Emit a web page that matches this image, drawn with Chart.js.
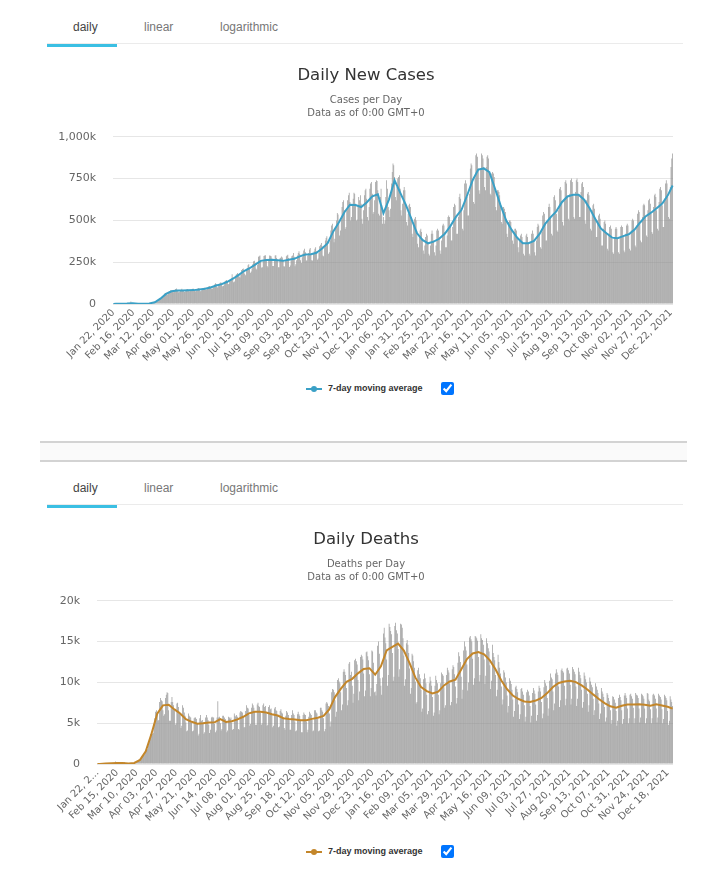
<!DOCTYPE html>
<html>
<head>
<meta charset="utf-8">
<title>Daily New Cases / Daily Deaths</title>
<script src="https://cdn.jsdelivr.net/npm/chart.js@4.4.1/dist/chart.umd.min.js"></script>
<style>
  body { margin: 0; background: #fff; }
  .page { position: relative; width: 723px; height: 877px; overflow: hidden; }
  .tabs { position: absolute; left: 47px; width: 636px; height: 43px; border-bottom: 1px solid #ebebeb;
          font-family: "Liberation Sans", Arial, sans-serif; font-size: 12px; color: #777; }
  .tabs span { position: absolute; top: 20px; }
  .tabs .active { color: #444; }
  .tabs .underline { position: absolute; left: 0; bottom: -4px; width: 70px; height: 3px; background: #3bbfe3; }
  .sep { position: absolute; left: 40px; width: 647px; top: 441px; height: 17px; background: #fafafa;
         border-top: 2px solid #d3d3d3; border-bottom: 2px solid #d3d3d3; }
  canvas { position: absolute; left: 40px; }
  .legend { position: absolute; left: 0; width: 723px; height: 14px;
            font-family: "Liberation Sans", Arial, sans-serif; font-weight: bold; font-size: 9px; color: #333; }
  .legend .mk { position: absolute; left: 306px; top: 6px; width: 16px; height: 2px; }
  .legend .dot { position: absolute; left: 311px; top: 4px; width: 6px; height: 6px; border-radius: 50%; }
  .legend .txt { position: absolute; left: 328px; top: 1px; }
  .legend input { position: absolute; left: 441px; top: 0px; margin: 0; width: 13px; height: 13px; }
</style>
</head>
<body>
<div class="page">
  <div class="tabs" style="top:0">
    <span class="active" style="left:26px">daily</span>
    <span style="left:97px">linear</span>
    <span style="left:173px">logarithmic</span>
    <div class="underline"></div>
  </div>
  <canvas id="casesChart" width="652" height="315" style="top:58px"></canvas>
  <div class="legend" style="top:382px">
    <div class="mk" style="background:#3aa0c6"></div><div class="dot" style="background:#3aa0c6"></div>
    <span class="txt">7-day moving average</span><input type="checkbox" checked>
  </div>

  <div class="sep"></div>

  <div class="tabs" style="top:461px">
    <span class="active" style="left:26px">daily</span>
    <span style="left:97px">linear</span>
    <span style="left:173px">logarithmic</span>
    <div class="underline"></div>
  </div>
  <canvas id="deathsChart" width="652" height="311" style="top:522px"></canvas>
  <div class="legend" style="top:845px">
    <div class="mk" style="background:#c3862a"></div><div class="dot" style="background:#c3862a"></div>
    <span class="txt">7-day moving average</span><input type="checkbox" checked>
  </div>
</div>

<script>
// Daily values, in thousands, Jan 22 2020 -> Dec 24 2021 (one row = two weeks, Wed..Tue)
const casesDaily = [
  1,0,0,1,1,1,2, 1,2,2,2,2,3,3,
  4,4,3,3,3,3,2, 2,15,6,3,3,2,2,
  1,1,1,1,1,1,1, 1,1,1,2,2,2,2,
  2,3,3,4,4,4,4, 5,7,10,11,11,14,15,
  17,27,31,32,34,40,42, 50,62,64,62,59,57,65,
  76,77,82,79,73,70,74, 83,89,92,80,78,71,74,
  82,85,91,83,79,72,75, 80,87,89,85,77,76,78,
  80,87,92,84,79,76,80, 90,93,95,92,77,78,85,
  86,95,98,95,83,86,93, 101,107,107,103,93,89,95,
  107,117,124,120,103,98,110, 121,127,130,124,106,107,118,
  134,139,143,138,118,120,140, 143,151,178,158,130,134,165,
  175,179,185,176,164,158,174, 204,210,212,190,180,172,210,
  216,232,237,218,187,195,212, 238,256,258,244,212,207,235,
  282,285,290,256,218,220,256, 287,290,292,264,228,220,258,
  290,289,285,270,227,228,266, 290,292,275,266,220,220,272,
  277,284,278,258,226,225,258, 286,290,295,275,222,230,260,
  285,290,305,283,226,238,262, 290,305,315,300,262,245,280,
  302,320,330,310,260,260,290, 305,326,335,300,262,260,300,
  316,330,340,316,265,272,305, 346,355,365,345,290,285,340,
  380,395,405,375,300,310,380, 440,470,480,440,370,390,450,
  500,545,535,480,410,440,505, 580,610,620,560,450,460,560,
  620,650,665,610,500,520,590, 630,665,660,600,500,505,585,
  640,620,650,600,510,480,560, 650,680,690,630,520,500,580,
  690,720,730,660,540,550,620, 730,740,735,680,540,530,640,
  690,590,480,520,480,500,640, 740,690,580,560,520,570,720,
  790,840,830,760,640,620,700, 750,760,770,690,560,530,600,
  680,700,680,600,490,470,540, 590,600,580,520,420,400,470,
  510,520,500,440,360,340,400, 440,450,430,390,320,300,350,
  400,420,410,370,300,290,350, 420,440,420,380,310,290,350,
  440,450,440,400,320,300,380, 470,480,470,430,340,340,410,
  520,530,520,470,380,380,460, 580,600,590,520,420,420,520,
  640,660,630,560,450,440,560, 720,740,720,640,530,530,660,
  810,840,830,740,610,600,750, 890,900,880,810,680,660,810,
  900,890,870,820,700,680,820, 880,890,870,790,660,650,780,
  790,780,760,690,580,560,680, 680,670,650,590,490,480,580,
  580,570,550,500,420,400,490, 500,500,490,440,380,360,430,
  450,450,440,400,340,310,380, 410,420,400,370,300,290,360,
  410,420,400,360,300,290,370, 420,440,420,380,310,290,380,
  460,480,470,420,340,330,430, 530,550,540,480,380,380,490,
  580,600,580,520,420,410,530, 640,650,620,540,440,430,560,
  690,700,680,610,490,470,620, 730,740,720,640,510,500,660,
  740,750,730,650,520,510,670, 740,750,730,650,520,520,670,
  720,730,700,620,500,480,620, 660,670,650,570,450,440,560,
  590,600,570,500,400,400,500, 530,540,510,440,350,350,450,
  490,500,480,420,330,320,420, 460,470,450,390,310,300,400,
  450,460,450,390,310,300,400, 460,470,460,400,320,310,420,
  470,480,470,410,330,320,440, 500,510,500,440,350,340,470,
  540,560,550,480,380,370,520, 590,600,590,520,410,400,560,
  620,630,600,540,430,420,580, 650,660,640,560,450,440,610,
  690,700,680,590,460,460,630, 720,740,720,640,520,510,700,
  820,870,900
];

const deathsDaily = [
  0,0,0,0,0,0,0.1, 0,0.1,0,0.1,0.1,0.1,0.1,
  0.1,0.1,0.1,0.1,0.1,0.1,0.1, 0.1,0.3,0.1,0.1,0.1,0.1,0.1,
  0.1,0.1,0.1,0.1,0.1,0.2,0.1, 0.1,0,0,0.1,0.1,0.1,0.1,
  0.1,0.1,0.1,0.1,0.1,0.2,0.2, 0.3,0.4,0.4,0.4,0.5,0.6,0.9,
  1.0,1.1,1.4,1.7,1.7,1.8,2.3, 2.8,3.1,3.7,3.9,3.7,3.8,4.9,
  5.6,6.4,6.6,6.2,5.3,5.4,7.6, 8.1,7.8,7.7,6.6,5.9,6.1,8.1,
  8.5,8.8,8.7,6.6,5.3,5.3,7.6, 8.2,7.6,7.2,6.6,4.8,5.0,7.4,
  7.5,7.0,6.4,6.1,4.4,4.7,7.2, 6.9,6.3,5.9,5.1,4.0,4.1,6.2,
  5.9,5.8,5.7,5.1,4.0,4.1,5.6, 5.7,5.7,5.5,4.9,3.5,3.7,5.6,
  6.0,5.3,5.4,4.9,3.7,3.9,5.7, 6.0,5.7,5.4,4.8,3.8,4.2,5.7,
  5.8,5.7,5.7,4.9,3.9,4.1,5.7, 7.7,5.7,5.8,5.0,4.1,4.3,5.9,
  5.9,5.7,5.5,5.2,3.9,4.1,5.8, 5.7,5.5,5.7,5.1,4.2,4.3,6.2,
  5.9,5.8,6.0,5.8,4.3,4.2,6.3, 6.5,6.4,6.3,5.8,4.5,4.5,6.5,
  7.2,6.9,6.8,6.0,4.7,4.9,6.9, 7.4,7.2,6.9,6.4,4.8,4.8,7.3,
  7.5,7.1,7.0,6.3,4.8,5.0,7.2, 7.4,7.0,7.1,6.2,4.7,4.8,7.0,
  7.2,6.7,6.8,6.0,4.5,4.7,6.8, 7.0,6.6,6.5,5.9,4.5,4.6,6.5,
  6.7,6.3,6.2,5.6,4.4,4.2,5.9, 6.5,6.3,6.0,5.4,4.2,4.2,6.0,
  6.6,6.2,6.0,5.2,4.0,4.1,6.1, 6.4,6.1,5.9,5.3,3.9,3.9,6.0,
  6.3,6.1,6.0,5.2,3.9,4.2,5.8, 6.4,6.2,6.0,5.4,4.0,4.1,6.6,
  6.6,6.3,6.2,5.5,4.0,4.1,6.9, 6.9,6.6,6.4,5.6,4.0,4.3,7.4,
  7.6,7.4,7.1,6.2,4.6,5.2,8.8, 9.2,9.1,8.8,7.8,5.8,6.4,10.3,
  10.5,10.1,9.9,8.8,6.6,7.3,11.3, 11.6,11.3,10.9,9.3,7.2,7.8,12.3,
  12.5,10.9,11.3,9.6,7.5,8.6,12.7, 12.9,12.6,12.2,10.3,7.8,8.9,13.1,
  13.4,13.2,12.8,11.1,8.3,9.0,13.7, 13.8,13.2,12.7,11.0,8.3,9.3,13.9,
  13.8,12.4,8.8,8.9,8.4,9.8,14.5, 15.0,13.5,10.5,9.6,8.5,10.6,16.0,
  16.7,15.5,14.8,12.8,9.6,10.9,17.2, 16.8,16.3,15.9,13.6,10.2,10.7,16.9,
  17.3,16.4,16.0,14.1,10.7,11.6,17.2, 17.1,16.7,15.4,13.3,9.6,10.4,14.8,
  15.2,14.6,13.6,11.7,8.6,9.3,13.5, 13.3,12.6,11.8,10.1,7.4,7.6,11.5,
  11.8,11.0,10.5,9.1,6.4,6.8,10.4, 11.1,10.5,9.9,8.5,6.1,6.5,9.9,
  10.7,10.2,9.6,8.2,5.9,6.3,9.6, 10.8,10.3,9.9,8.5,6.1,6.6,9.9,
  11.2,11.0,10.8,9.4,6.9,7.2,10.9, 11.8,11.5,11.2,9.9,7.2,7.6,11.6,
  12.1,11.9,11.0,9.5,7.4,8.1,12.4, 13.7,13.2,12.5,10.7,8.0,9.1,13.9,
  15.0,14.4,13.9,12.2,9.0,10.0,15.5, 15.7,15.3,15.0,12.9,9.7,10.5,15.7,
  15.6,15.4,15.1,13.1,10.1,10.9,15.9, 15.4,15.2,14.6,12.8,9.8,10.8,15.4,
  14.8,14.2,13.8,12.1,9.2,10.2,14.6, 13.6,13.1,12.7,10.9,8.3,9.1,13.4,
  12.5,11.8,11.1,9.5,7.3,7.9,11.5, 11.2,10.6,10.0,8.4,6.3,7.1,10.5,
  10.2,9.8,9.1,7.9,5.8,6.5,9.4, 9.6,9.2,8.8,7.3,5.5,6.1,9.2,
  9.3,8.9,8.5,7.2,5.2,5.8,8.8, 9.1,8.9,8.4,7.1,5.1,5.9,8.7,
  9.3,9.0,8.6,7.3,5.3,6.0,8.9, 9.6,9.3,8.9,7.6,5.6,6.2,9.4,
  10.3,9.9,9.6,8.1,5.9,6.8,10.2, 11.1,10.6,10.4,8.9,6.6,7.4,11.1,
  11.6,11.2,10.9,9.5,7.0,7.8,11.5, 11.7,11.4,11.2,9.6,7.2,8.0,11.7,
  11.8,11.5,11.1,9.7,7.3,8.0,11.9, 11.6,11.3,11.0,9.5,7.1,8.0,11.8,
  11.3,10.9,10.5,9.1,6.9,7.6,11.2, 10.8,10.4,10.0,8.6,6.4,7.2,10.6,
  10.1,9.7,9.4,8.0,6.0,6.6,9.9, 9.5,9.1,8.7,7.4,5.5,6.2,9.3,
  8.9,8.6,8.2,7.0,5.2,5.7,8.7, 8.5,8.1,7.7,6.6,4.9,5.4,8.3,
  8.2,7.9,7.5,6.5,4.7,5.3,8.1, 8.5,8.2,7.8,6.6,4.9,5.5,8.4,
  8.7,8.4,8.1,6.8,5.0,5.6,8.5, 8.6,8.3,8.0,6.9,5.0,5.6,8.7,
  8.5,8.4,8.1,6.8,5.1,5.7,8.6, 8.5,8.3,8.0,6.8,5.0,5.6,8.7,
  8.6,7.9,7.7,6.7,5.0,5.6,8.5, 8.6,8.4,8.0,6.8,5.1,5.7,8.6,
  8.4,8.2,7.9,6.7,5.0,5.5,8.5, 8.3,8.1,7.8,6.5,4.8,5.3,8.3,
  7.9,7.6,7.1
];

// 7-day moving average (thousands): first day, the middle of every week, then the final day
const casesAvg = [0,
  1,2,3,5,1,2,3,10,32,60,
  76,81,81,82,83,87,91,99,111,119,
  133,151,173,197,214,236,258,263,265,262,
  258,265,270,285,296,298,306,332,364,434,
  488,549,594,592,580,607,644,656,543,626,
  740,666,594,511,424,383,363,373,390,420,
  466,521,563,649,740,804,811,789,691,591,
  501,443,396,364,364,377,419,479,520,554,
  609,643,653,654,624,571,509,451,423,397,
  394,406,417,444,486,524,546,573,601,650,
  709];

const deathsAvg = [0,
  0.01,0.07,0.1,0.13,0.11,0.07,0.13,0.5,1.57,3.7,
  6.16,7.19,7.26,6.69,6.19,5.5,5.17,4.94,4.99,5.09,
  5.11,5.5,5.16,5.24,5.47,5.79,6.2,6.4,6.41,6.31,
  6.1,5.94,5.61,5.51,5.46,5.36,5.36,5.53,5.66,5.89,
  6.7,8.2,9.21,10.06,10.44,11.11,11.64,11.74,10.94,11.96,
  13.93,14.34,14.76,13.9,12.36,10.61,9.43,8.93,8.64,8.87,
  9.63,10.11,10.34,11.59,12.86,13.54,13.73,13.43,12.7,11.59,
  10.23,9.16,8.39,7.96,7.67,7.6,7.77,8.09,8.69,9.44,
  9.93,10.11,10.19,10.04,9.64,9.14,8.53,7.96,7.47,7.07,
  6.89,7.13,7.3,7.3,7.31,7.27,7.14,7.31,7.17,7.01,
  6.79];

// tick labels shown under each x axis
const casesTicks = ['Jan 22, 2020','Feb 16, 2020','Mar 12, 2020','Apr 06, 2020','May 01, 2020','May 26, 2020',
  'Jun 20, 2020','Jul 15, 2020','Aug 09, 2020','Sep 03, 2020','Sep 28, 2020','Oct 23, 2020','Nov 17, 2020',
  'Dec 12, 2020','Jan 06, 2021','Jan 31, 2021','Feb 25, 2021','Mar 22, 2021','Apr 16, 2021','May 11, 2021',
  'Jun 05, 2021','Jun 30, 2021','Jul 25, 2021','Aug 19, 2021','Sep 13, 2021','Oct 08, 2021','Nov 02, 2021',
  'Nov 27, 2021','Dec 22, 2021'];
const deathsTicks = ['Jan 22, 2020','Feb 15, 2020','Mar 10, 2020','Apr 03, 2020','Apr 27, 2020','May 21, 2020',
  'Jun 14, 2020','Jul 08, 2020','Aug 01, 2020','Aug 25, 2020','Sep 18, 2020','Oct 12, 2020','Nov 05, 2020',
  'Nov 29, 2020','Dec 23, 2020','Jan 16, 2021','Feb 09, 2021','Mar 05, 2021','Mar 29, 2021','Apr 22, 2021',
  'May 16, 2021','Jun 09, 2021','Jul 03, 2021','Jul 27, 2021','Aug 20, 2021','Sep 13, 2021','Oct 07, 2021',
  'Oct 31, 2021','Nov 24, 2021','Dec 18, 2021'];

// one category per day
const MONTHS = ['Jan','Feb','Mar','Apr','May','Jun','Jul','Aug','Sep','Oct','Nov','Dec'];
const startDay = Date.UTC(2020, 0, 22);
const dayLabels = casesDaily.map(function (_, i) {
  const d = new Date(startDay + i * 86400000);
  return MONTHS[d.getUTCMonth()] + ' ' + String(d.getUTCDate()).padStart(2, '0') + ', ' + d.getUTCFullYear();
});

// where the moving-average points sit: day 0, mid-week (Saturday), last day
const avgDays = [0];
for (let i = 3; i < dayLabels.length - 3; i += 7) avgDays.push(i);
avgDays.push(dayLabels.length - 1);

function buildChart(id, cfg) {
  const avgLine = new Array(dayLabels.length).fill(null);
  avgDays.forEach(function (d, k) { avgLine[d] = cfg.avg[k]; });

  return new Chart(document.getElementById(id), {
    data: {
      labels: dayLabels,
      datasets: [
        {
          type: 'line', label: '7-day moving average', data: avgLine,
          borderColor: cfg.color, borderWidth: 2, pointRadius: 0, spanGaps: true, tension: 0, order: 0
        },
        {
          type: 'bar', label: cfg.barLabel, data: cfg.daily,
          backgroundColor: '#8e8e8e', barPercentage: 0.8, categoryPercentage: 1, order: 1
        }
      ]
    },
    options: {
      responsive: false,
      animation: false,
      devicePixelRatio: 1,
      layout: { padding: { left: 19, right: 19 } },
      plugins: {
        legend: { display: false },
        tooltip: { enabled: false },
        title: {
          display: true, text: cfg.title, color: '#333',
          font: { family: 'DejaVu Sans', size: 16.5, weight: 'normal' },
          padding: { top: 8, bottom: 8 }
        },
        subtitle: {
          display: true, text: [cfg.subtitle, 'Data as of 0:00 GMT+0'], color: '#666',
          font: { family: 'DejaVu Sans', size: 10, lineHeight: 1.3 },
          padding: { top: 0, bottom: 17 }
        }
      },
      scales: {
        x: {
          grid: { display: false, drawTicks: false },
          border: { display: false },
          ticks: {
            autoSkip: false, maxRotation: 45, minRotation: 45, padding: 3,
            color: '#666', font: { family: 'DejaVu Sans', size: 10 },
            callback: function (value) {
              const lab = this.getLabelForValue(value);
              if (!cfg.ticks.includes(lab)) return null;
              return (lab === cfg.ticks[0] && cfg.cutFirst) ? 'Jan 22, 2...' : lab;
            }
          },
          afterFit: function (s) { s.height = 69; }
        },
        y: {
          min: 0, max: cfg.max,
          grid: { color: '#e6e6e6', drawTicks: false },
          border: { display: false },
          ticks: {
            stepSize: cfg.step, padding: 17, color: '#666',
            font: { family: 'DejaVu Sans', size: 11 },
            callback: function (v) { return v === 0 ? '0' : v.toLocaleString('en-US') + 'k'; }
          },
          afterFit: function (s) { s.width = cfg.axisWidth; }
        }
      }
    }
  });
}

buildChart('casesChart', {
  title: 'Daily New Cases', subtitle: 'Cases per Day', barLabel: 'Daily Cases',
  daily: casesDaily, avg: casesAvg, ticks: casesTicks, cutFirst: false,
  color: '#3aa0c6', max: 1000, step: 250, axisWidth: 54
});

buildChart('deathsChart', {
  title: 'Daily Deaths', subtitle: 'Deaths per Day', barLabel: 'Daily Deaths',
  daily: deathsDaily, avg: deathsAvg, ticks: deathsTicks, cutFirst: true,
  color: '#c3862a', max: 20, step: 5, axisWidth: 38
});
</script>
</body>
</html>
